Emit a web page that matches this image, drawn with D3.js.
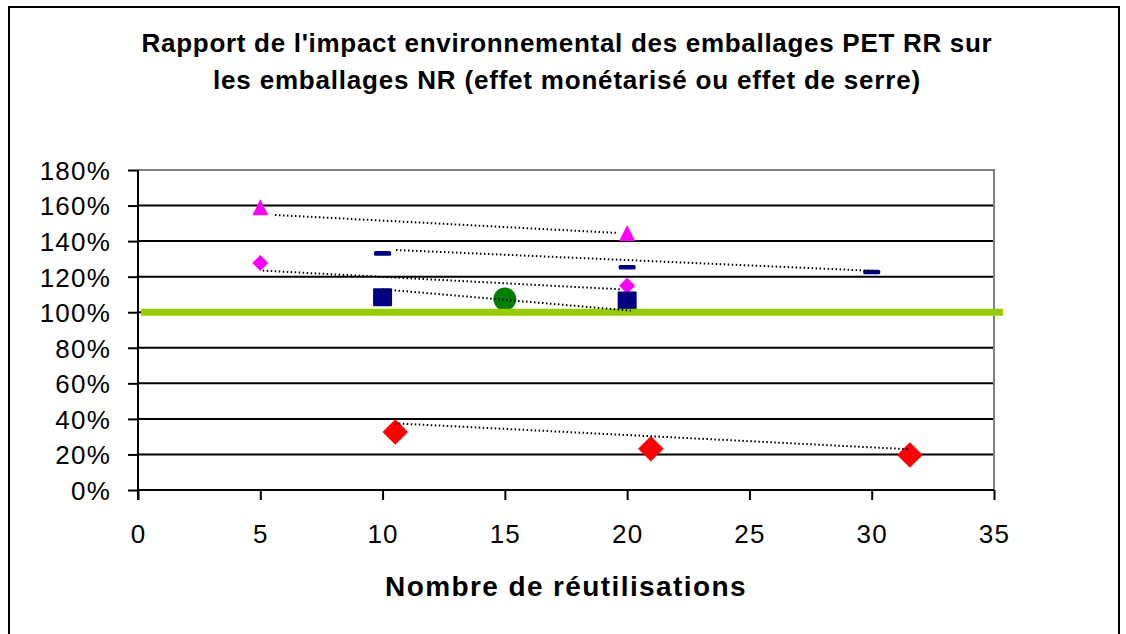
<!DOCTYPE html>
<html>
<head>
<meta charset="utf-8">
<script src="https://cdn.jsdelivr.net/npm/d3@7"></script>
<style>
    body { margin: 0; background: #fff; }
    text { font-family: "Liberation Sans", Arial, sans-serif; }
</style>
</head>
<body>
<script>
// values
var titleLines = ["Rapport de l'impact environnemental des emballages PET RR sur",
                  "les emballages NR (effet monétarisé ou effet de serre)"],
    xTitle = "Nombre de réutilisations",
    xTicks = [0, 5, 10, 15, 20, 25, 30, 35],
    yTicks = [0, 0.2, 0.4, 0.6, 0.8, 1.0, 1.2, 1.4, 1.6, 1.8];

var triangleX = [5, 20],          triangleY = [1.59, 1.446],
    dashX = [10, 20, 30],         dashY = [1.331, 1.253, 1.226],
    pinkDiamondX = [5, 20],       pinkDiamondY = [1.277, 1.149],
    squareX = [10, 20],           squareY = [1.084, 1.066],
    circleX = [15],               circleY = [1.074],
    redDiamondX = [10.52, 20.97, 31.56], redDiamondY = [0.326, 0.232, 0.197];

// dotted trend lines: [x start, y start, x end, y end]
var trendTriangle = [5.6, 1.547, 19.6, 1.446],
    trendDash = [10.55, 1.35, 30.2, 1.232],
    trendPinkDiamond = [5.1, 1.234, 19.7, 1.129],
    trendSquare = [10.0, 1.129, 20.15, 1.009],
    trendRed = [10.5, 0.375, 31.56, 0.229];

var refValue = 1.0, refExtent = [0.12, 35.37];

var width = 1126, height = 634,
    plotLeft = 138, plotRight = 994, plotTop = 170, plotBottom = 490;

var svg = d3.select("body").append("svg")
            .attr("width", width)
            .attr("height", height);

svg.append("rect")
   .attr("x", 9).attr("y", 7)
   .attr("width", 1110).attr("height", 640)
   .style("fill", "#fff")
   .style("stroke", "#000")
   .style("stroke-width", 2);

var x = d3.scaleLinear().domain([0, 35]).range([plotLeft, plotRight]),
    y = d3.scaleLinear().domain([0, 1.8]).range([plotBottom, plotTop]);

// title
svg.selectAll(".title")
   .data(titleLines)
   .enter().append("text")
   .attr("class", "title")
   .attr("x", 567)
   .attr("y", function(d, i) { return 52 + i * 37; })
   .attr("text-anchor", "middle")
   .style("font-size", "26px")
   .style("font-weight", "bold")
   .style("letter-spacing", function(d, i) { return i === 0 ? "0.7px" : "0.8px"; })
   .text(function(d) { return d; });

// gridlines
svg.selectAll(".grid")
   .data(yTicks.filter(function(d) { return d > 0 && d < 1.8; }))
   .enter().append("line")
   .attr("class", "grid")
   .attr("x1", plotLeft).attr("x2", plotRight)
   .attr("y1", function(d) { return y(d); })
   .attr("y2", function(d) { return y(d); })
   .style("stroke", "#000")
   .style("stroke-width", 2);

// plot frame top / right (gray)
svg.append("path")
   .attr("d", "M" + plotLeft + "," + y(1.8) + "H" + x(35) + "V" + y(0))
   .style("fill", "none")
   .style("stroke", "#808080")
   .style("stroke-width", 2);

// axes
var yAxis = d3.axisLeft(y).tickValues(yTicks)
              .tickFormat(function(d) { return Math.round(d * 100) + "%"; })
              .tickSize(10).tickPadding(17);
var gy = svg.append("g").attr("transform", "translate(" + plotLeft + ",0)").call(yAxis);

var xAxis = d3.axisBottom(x).tickValues(xTicks).tickSize(10).tickPadding(25);
var gx = svg.append("g").attr("transform", "translate(0," + plotBottom + ")").call(xAxis);

[gx, gy].forEach(function(g) {
    g.select(".domain").remove();
    g.selectAll(".tick line").style("stroke", "#000").style("stroke-width", 2);
    g.selectAll(".tick text")
     .style("font-size", "26px")
     .style("letter-spacing", "1.2px")
     .style("fill", "#000")
     .style("font-family", "'Liberation Sans', Arial, sans-serif");
});
gy.selectAll(".tick text").attr("dy", "0.36em");

svg.append("line")
   .attr("x1", plotLeft).attr("x2", plotLeft)
   .attr("y1", y(1.8)).attr("y2", plotBottom + 10)
   .style("stroke", "#000").style("stroke-width", 2);
svg.append("line")
   .attr("x1", plotLeft).attr("x2", plotRight)
   .attr("y1", plotBottom).attr("y2", plotBottom)
   .style("stroke", "#000").style("stroke-width", 2);

svg.append("text")
   .attr("x", 566)
   .attr("y", 596)
   .attr("text-anchor", "middle")
   .style("font-size", "28px")
   .style("font-weight", "bold")
   .style("letter-spacing", "1.4px")
   .text(xTitle);

// markers
function pts(xs, ys) {
    return xs.map(function(d, i) { return {x : d, y : ys[i]}; });
}

function diamond(s) {
    return "M0," + (-s) + "L" + s + ",0L0," + s + "L" + (-s) + ",0Z";
}

svg.selectAll(".tri")
   .data(pts(triangleX, triangleY))
   .enter().append("path")
   .attr("transform", function(d) { return "translate(" + x(d.x) + "," + y(d.y) + ")"; })
   .attr("d", "M0,-8L8,8L-8,8Z")
   .style("fill", "#ff00ff");

svg.selectAll(".pinkDiamond")
   .data(pts(pinkDiamondX, pinkDiamondY))
   .enter().append("path")
   .attr("transform", function(d) { return "translate(" + x(d.x) + "," + y(d.y) + ")"; })
   .attr("d", diamond(8))
   .style("fill", "#ff00ff");

svg.selectAll(".dash")
   .data(pts(dashX, dashY))
   .enter().append("rect")
   .attr("x", function(d) { return x(d.x) - 8.5; })
   .attr("y", function(d) { return y(d.y) - 2.3; })
   .attr("width", 17).attr("height", 4.6)
   .attr("rx", 1.5)
   .style("fill", "#000080");

svg.selectAll(".square")
   .data(pts(squareX, squareY))
   .enter().append("rect")
   .attr("x", function(d) { return x(d.x) - 9.5; })
   .attr("y", function(d) { return y(d.y) - 9; })
   .attr("width", 19).attr("height", 18)
   .attr("rx", 1)
   .style("fill", "#000080");

svg.selectAll(".circle")
   .data(pts(circleX, circleY))
   .enter().append("circle")
   .attr("cx", function(d) { return x(d.x); })
   .attr("cy", function(d) { return y(d.y); })
   .attr("r", 11.5)
   .style("fill", "#008000");

svg.selectAll(".redDiamond")
   .data(pts(redDiamondX, redDiamondY))
   .enter().append("path")
   .attr("transform", function(d) { return "translate(" + x(d.x) + "," + y(d.y) + ")"; })
   .attr("d", diamond(12.8))
   .style("fill", "#ff0000");

// reference line at 100%
svg.append("line")
   .attr("x1", x(refExtent[0])).attr("x2", x(refExtent[1]))
   .attr("y1", y(refValue)).attr("y2", y(refValue))
   .style("stroke", "#99cc00")
   .style("stroke-width", 7);

// trend lines
svg.selectAll(".trend")
   .data([trendTriangle, trendDash, trendPinkDiamond, trendSquare, trendRed])
   .enter().append("line")
   .attr("class", "trend")
   .attr("x1", function(d) { return x(d[0]); })
   .attr("y1", function(d) { return y(d[1]); })
   .attr("x2", function(d) { return x(d[2]); })
   .attr("y2", function(d) { return y(d[3]); })
   .style("stroke", "#000")
   .style("stroke-width", 2)
   .style("stroke-dasharray", "1.5,2.5");
</script>
</body>
</html>
